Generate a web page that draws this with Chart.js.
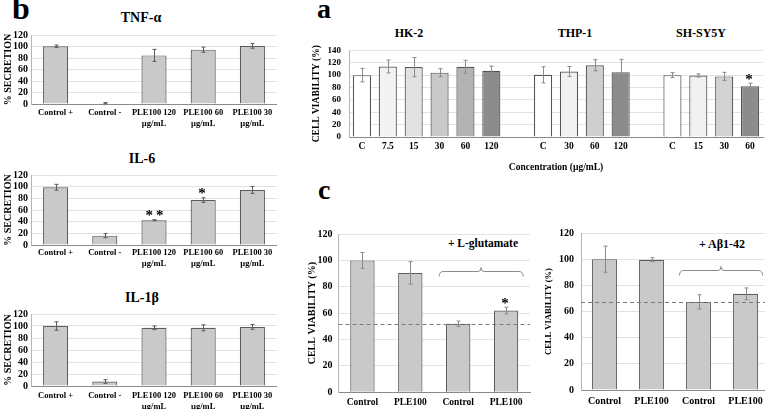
<!DOCTYPE html>
<html><head><meta charset="utf-8">
<script src="https://cdn.jsdelivr.net/npm/chart.js@4.4.0/dist/chart.umd.min.js"></script>
<style>
html,body{margin:0;padding:0;background:#fff;width:765px;height:409px;overflow:hidden;}
#wrap{position:relative;width:765px;height:409px;overflow:hidden;}
canvas{position:absolute;}
.t{position:absolute;font-family:"Liberation Serif","Times New Roman",serif;font-weight:bold;line-height:1;white-space:nowrap;transform:translate(-50%,-50%);color:#000;}
.L{position:absolute;font-family:"Liberation Serif","Times New Roman",serif;font-weight:bold;line-height:1;color:#000;}
</style></head><body><div id="wrap">
<div class="L" style="left:12px;top:-8px;font-size:32px">b</div>
<div class="L" style="left:317px;top:-5px;font-size:28px">a</div>
<div class="L" style="left:318px;top:176px;font-size:28px">c</div>
<div class="t" style="left:141px;top:18px;font-size:14px">TNF-α</div>
<div class="t" style="left:142px;top:159px;font-size:14px">IL-6</div>
<div class="t" style="left:142px;top:298px;font-size:14px">IL-1β</div>
<div class="t" style="left:409px;top:33px;font-size:12px">HK-2</div>
<div class="t" style="left:575px;top:33px;font-size:12px">THP-1</div>
<div class="t" style="left:701px;top:33px;font-size:12px">SH-SY5Y</div>
<div class="t" style="left:483px;top:244px;font-size:11.5px">+ L-glutamate</div>
<div class="t" style="left:722px;top:244px;font-size:12px">+ Aβ1-42</div>
</div>
<script>
// ---------- Panel b data ----------
const bCategories = [["Control +"], ["Control -"], ["PLE100 120", "µg/mL"], ["PLE100 60", "µg/mL"], ["PLE100 30", "µg/mL"]];
const tnfValues = [100.5, 1.5, 84.5, 94.5, 101];
const tnfErrors = [2, 1, 10.5, 4.5, 4];
const tnfMarks = ["", "", "", "", ""];
const il6Values = [99, 16, 42.5, 77, 94.5];
const il6Errors = [5, 3.5, 1, 4, 6];
const il6Marks = ["", "", "**", "*", ""];
const il1bValues = [100, 7.5, 97, 97, 98.5];
const il1bErrors = [7, 3, 3, 5, 4];
const il1bMarks = ["", "", "", "", ""];
const bTicks = [0, 20, 40, 60, 80, 100, 120];

// ---------- Panel a data ----------
const hk2Labels = ["C", "7.5", "15", "30", "60", "120"];
const hk2Values = [100, 114, 113, 104, 113.5, 107];
const hk2Errors = [11, 10.5, 15.5, 6.5, 10.5, 7.5];
const thp1Labels = ["C", "30", "60", "120"];
const thp1Values = [100.5, 106, 116, 104.5];
const thp1Errors = [13, 8, 9, 21];
const shsy5yLabels = ["C", "15", "30", "60"];
const shsy5yValues = [100, 99.5, 98, 82];
const shsy5yErrors = [4, 2.5, 6.5, 5];
const shsy5yMarks = ["", "", "", "*"];
const aTicks = [0, 20, 40, 60, 80, 100, 120, 140];

// ---------- Panel c data ----------
const cCategories = ["Control", "PLE100", "Control", "PLE100"];
const glutValues = [100, 90.5, 52, 62];
const glutErrors = [6, 8.5, 2, 2.5];
const glutMarks = ["", "", "", "*"];
const glutBaseline = 52;
const abetaValues = [100, 99.6, 67.3, 73.5];
const abetaErrors = [10, 1.5, 5.5, 4.5];
const abetaMarks = ["", "", "", ""];
const abetaBaseline = 67;
const cTicks = [0, 20, 40, 60, 80, 100, 120];

// ---------- styles ----------
const hk2Colors = ['#ffffff', '#f3f3f3', '#e1e1e1', '#c9c9c9', '#b3b3b3', '#8c8c8c'];
const thp1Colors = ['#ffffff', '#f1f1f1', '#cfcfcf', '#8c8c8c'];
const shsy5yColors = ['#ffffff', '#f1f1f1', '#d2d2d2', '#8c8c8c'];
const SERIF = '"Liberation Serif", "Times New Roman", serif';
Chart.defaults.color = '#000';
Chart.defaults.font.family = SERIF;

const wrap = document.getElementById('wrap');

function overlayPlugin(errors, marks, errColor, baseline, bracket) {
  return {
    id: 'overlay',
    afterDatasetsDraw(chart) {
      const ctx = chart.ctx, y = chart.scales.y, x = chart.scales.x, area = chart.chartArea;
      const vals = chart.data.datasets[0].data;
      const meta = chart.getDatasetMeta(0);
      ctx.save();
      if (baseline != null) {
        const yy = Math.round(y.getPixelForValue(baseline)) + 0.5;
        ctx.strokeStyle = '#7a7a7a'; ctx.lineWidth = 1.2; ctx.setLineDash([4, 3]);
        ctx.beginPath(); ctx.moveTo(area.left, yy); ctx.lineTo(area.right, yy); ctx.stroke();
        ctx.setLineDash([]);
      }
      if (bracket) {
        const l = x.getPixelForValue(2) - 19, r = x.getPixelForValue(3) + 17, m = (l + r) / 2;
        const yy = Math.round(y.getPixelForValue(92)) + 0.5;
        ctx.strokeStyle = '#8a8a8a'; ctx.lineWidth = 1;
        ctx.beginPath();
        ctx.moveTo(l, yy + 5); ctx.quadraticCurveTo(l, yy, l + 4, yy);
        ctx.lineTo(m - 3, yy); ctx.quadraticCurveTo(m, yy, m, yy - 4);
        ctx.quadraticCurveTo(m, yy, m + 3, yy);
        ctx.lineTo(r - 4, yy); ctx.quadraticCurveTo(r, yy, r, yy + 5);
        ctx.stroke();
      }
      ctx.strokeStyle = errColor; ctx.lineWidth = 1;
      meta.data.forEach((bar, i) => {
        const v = vals[i], e = errors[i];
        if (v == null || e == null) return;
        const bx = Math.round(bar.x) + 0.5;
        const top = y.getPixelForValue(v + e), bot = y.getPixelForValue(Math.max(v - e, 0));
        ctx.beginPath();
        ctx.moveTo(bx, top); ctx.lineTo(bx, bot);
        ctx.moveTo(bx - 2, top); ctx.lineTo(bx + 2, top);
        ctx.moveTo(bx - 2, bot); ctx.lineTo(bx + 2, bot);
        ctx.stroke();
        if (marks && marks[i]) {
          const fs = 15;
          ctx.fillStyle = '#000';
          ctx.font = 'bold ' + fs + 'px ' + SERIF;
          ctx.textAlign = 'center'; ctx.textBaseline = 'alphabetic';
          ctx.letterSpacing = '3px';
          const cy = top - 6.5;
          ctx.fillText(marks[i], bx + (marks[i].length > 1 ? 1.5 : 0), cy + 0.47 * fs);
          ctx.letterSpacing = '0px';
        }
      });
      ctx.restore();
    }
  };
}

function makeChart(c) {
  const cv = document.createElement('canvas');
  cv.width = c.width; cv.height = c.height;
  cv.style.left = c.left + 'px'; cv.style.top = c.top + 'px';
  cv.style.width = c.width + 'px'; cv.style.height = c.height + 'px';
  wrap.appendChild(cv);
  return new Chart(cv, {
    type: 'bar',
    data: {
      labels: c.labels,
      datasets: [{
        data: c.values,
        backgroundColor: c.colors,
        borderColor: c.border,
        borderWidth: 1.2,
        barPercentage: c.barPct,
        categoryPercentage: 1
      }]
    },
    options: {
      responsive: false,
      animation: false,
      devicePixelRatio: 1,
      layout: { padding: { top: c.padTop, right: c.padRight, left: 0, bottom: 0 } },
      plugins: { legend: { display: false }, tooltip: { enabled: false }, title: { display: false } },
      scales: {
        x: {
          afterFit(s) { s.height = c.xHeight; },
          grid: { display: false, drawTicks: false },
          border: { display: true, color: '#8a8a8a', width: 1 },
          ticks: {
            autoSkip: false, maxRotation: 0, minRotation: 0, padding: c.xPad,
            font: { family: SERIF, weight: 'bold', size: c.xFont, lineHeight: c.xLine || 1.2 }
          },
          title: c.xTitle ? {
            display: true, text: c.xTitle,
            font: { family: SERIF, weight: 'bold', size: 9.5, lineHeight: 1.2 },
            padding: { top: 0, bottom: 4 }
          } : { display: false }
        },
        y: {
          min: 0, max: c.ticks[c.ticks.length - 1],
          afterFit(s) { s.width = c.yWidth; },
          afterBuildTicks(s) { s.ticks = c.ticks.map(v => ({ value: v })); },
          grid: { color: g => (g.tick && g.tick.value === 0) ? 'rgba(0,0,0,0)' : '#e2e2e2', drawTicks: false },
          border: { display: true, color: '#b5b5b5', width: 1 },
          ticks: { autoSkip: false, padding: c.yPad, font: { family: SERIF, weight: 'bold', size: c.yFont, lineHeight: 1.2 } },
          title: {
            display: true, text: c.yTitle,
            font: { family: SERIF, weight: 'bold', size: c.yTitleFont, lineHeight: 1.2 },
            padding: { top: c.yTitlePad, bottom: 0 }
          }
        }
      }
    },
    plugins: [overlayPlugin(c.errors, c.marks, c.errColor, c.baseline, c.bracket)]
  });
}

const grayFill = '#c9c9c9', barEdge = '#5c5c5c';

// Panel b charts
const bCommon = {
  left: 0, width: 277, padTop: 6, padRight: 0, yWidth: 31,
  labels: bCategories, colors: grayFill, border: barEdge, barPct: 0.51,
  xFont: 8.5, xLine: 1.3, yFont: 10, yPad: 3, yTitle: '% SECRETION', yTitleFont: 10, yTitlePad: 2,
  ticks: bTicks, errColor: '#5a5a5a'
};
makeChart(Object.assign({}, bCommon, { top: 26, height: 105, xHeight: 27, xPad: 3.5, values: tnfValues, errors: tnfErrors, marks: tnfMarks }));
makeChart(Object.assign({}, bCommon, { top: 166, height: 106, xHeight: 27, xPad: 2.5, values: il6Values, errors: il6Errors, marks: il6Marks }));
makeChart(Object.assign({}, bCommon, { top: 305, height: 104, xHeight: 23, xPad: 4.5, values: il1bValues, errors: il1bErrors, marks: il1bMarks }));

// Panel a chart
const gapColor = 'rgba(0,0,0,0)';
makeChart({
  left: 300, top: 37, width: 465, height: 140, padTop: 6, padRight: 2, yWidth: 49, xHeight: 40,
  labels: [...hk2Labels, '', ...thp1Labels, '', ...shsy5yLabels],
  values: [...hk2Values, null, ...thp1Values, null, ...shsy5yValues],
  errors: [...hk2Errors, null, ...thp1Errors, null, ...shsy5yErrors],
  marks: [...hk2Labels.map(() => ''), '', ...thp1Labels.map(() => ''), '', ...shsy5yMarks],
  colors: [...hk2Colors, gapColor, ...thp1Colors, gapColor, ...shsy5yColors],
  border: '#555555', barPct: 0.7,
  xFont: 9.5, xPad: 4, xTitle: 'Concentration (µg/mL)',
  yFont: 9, yPad: 8, yTitle: 'CELL VIABILITY (%)', yTitleFont: 9.5, yTitlePad: 11,
  ticks: aTicks, errColor: '#8a8a8a'
});

// Panel c charts
makeChart({
  left: 300, top: 222, width: 232, height: 187, padTop: 6, padRight: 2, yWidth: 38.5, xHeight: 16.7,
  labels: cCategories, values: glutValues, errors: glutErrors, marks: glutMarks,
  colors: grayFill, border: barEdge, barPct: 0.51,
  xFont: 9.5, xPad: 4.5, yFont: 10, yPad: 6, yTitle: 'CELL VIABILITY (%)', yTitleFont: 10, yTitlePad: 6,
  ticks: cTicks, errColor: '#8a8a8a', baseline: glutBaseline, bracket: true
});
makeChart({
  left: 534, top: 220, width: 235, height: 189, padTop: 6, padRight: 0, yWidth: 47, xHeight: 19,
  labels: cCategories, values: abetaValues, errors: abetaErrors, marks: abetaMarks,
  colors: grayFill, border: barEdge, barPct: 0.53,
  xFont: 10, xPad: 5.5, yFont: 10, yPad: 7, yTitle: 'CELL VIABILITY (%)', yTitleFont: 8.5, yTitlePad: 10,
  ticks: cTicks, errColor: '#8a8a8a', baseline: abetaBaseline, bracket: true
});
</script>
</body></html>
